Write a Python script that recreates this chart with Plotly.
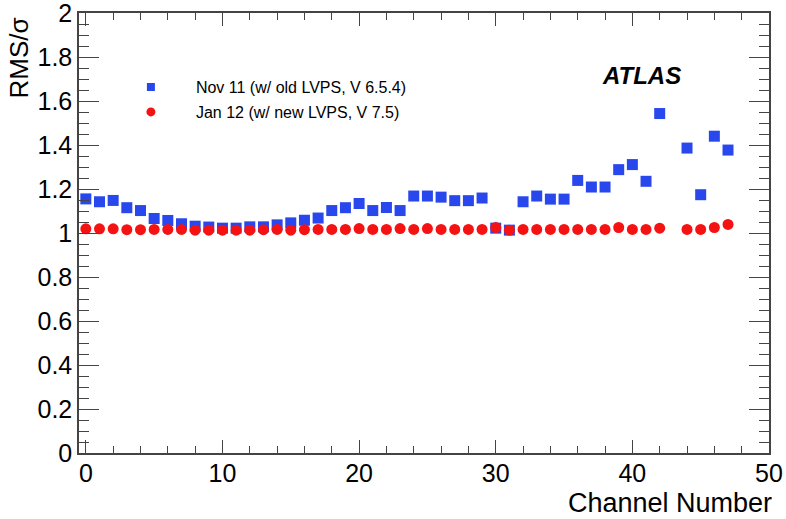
import plotly.graph_objects as go

channels = list(range(48))
nov11 = [1.155, 1.142, 1.148, 1.115, 1.102, 1.066, 1.057, 1.042, 1.031, 1.027,
         1.022, 1.022, 1.028, 1.028, 1.037, 1.046, 1.058, 1.068, 1.102, 1.115,
         1.134, 1.102, 1.116, 1.102, 1.168, 1.168, 1.163, 1.147, 1.147, 1.159,
         1.022, 1.013, 1.142, 1.168, 1.154, 1.154, 1.239, 1.209, 1.209, 1.288,
         1.311, 1.235, 1.543, None, 1.386, 1.174, 1.440, 1.377]
jan12 = [1.019, 1.019, 1.019, 1.015, 1.015, 1.016, 1.016, 1.016, 1.013, 1.013,
         1.013, 1.013, 1.013, 1.015, 1.016, 1.013, 1.015, 1.016, 1.016, 1.016,
         1.020, 1.016, 1.016, 1.020, 1.016, 1.020, 1.016, 1.016, 1.016, 1.016,
         1.025, 1.013, 1.016, 1.016, 1.016, 1.016, 1.016, 1.016, 1.016, 1.025,
         1.016, 1.016, 1.022, None, 1.016, 1.016, 1.025, 1.039]
y_ticks = [0, 0.2, 0.4, 0.6, 0.8, 1, 1.2, 1.4, 1.6, 1.8, 2]
y_ticktext = ["0", "0.2", "0.4", "0.6", "0.8", "1", "1.2", "1.4", "1.6", "1.8", "2"]

name_nov = "Nov 11 (w/ old LVPS, V 6.5.4)"
name_jan = "Jan 12 (w/ new LVPS, V 7.5)"
blue = "rgb(40,72,238)"
red = "rgb(245,18,18)"
font = "Liberation Sans, Arial, sans-serif"

fig = go.Figure()
fig.add_trace(go.Scatter(x=channels, y=nov11, mode="markers", showlegend=False,
                         marker=dict(symbol="square", size=11, color=blue,
                                     line=dict(width=0))))
fig.add_trace(go.Scatter(x=channels, y=jan12, mode="markers", showlegend=False,
                         marker=dict(symbol="circle", size=11, color=red,
                                     line=dict(width=0))))
# legend-only entries with smaller symbols
fig.add_trace(go.Scatter(x=[None], y=[None], mode="markers", name=name_nov,
                         legendgroup="a",
                         marker=dict(symbol="square", size=8, color=blue)))
fig.add_trace(go.Scatter(x=[None], y=[None], mode="markers", name=name_jan,
                         legendgroup="b",
                         marker=dict(symbol="circle", size=9, color=red)))

axcol = "#444444"
fig.update_layout(
    width=786, height=519,
    margin=dict(l=79, r=17, t=13, b=66, autoexpand=False),
    paper_bgcolor="white", plot_bgcolor="white",
    font=dict(family=font, color="black"),
    showlegend=True,
    legend=dict(x=0.039, y=0.87, xanchor="left", yanchor="top",
                bgcolor="rgba(0,0,0,0)", font=dict(size=16, family=font),
                itemwidth=80, tracegroupgap=1),
    xaxis=dict(range=[-0.5, 50], showgrid=False, zeroline=False, automargin=False,
               showline=True, linecolor=axcol, linewidth=1.5, mirror="allticks",
               ticks="inside", ticklen=13, tickwidth=1.2, tickcolor=axcol,
               tick0=0, dtick=10, tickfont=dict(size=25), ticklabeloverflow="allow",
               ticklabelstandoff=-3,
               minor=dict(ticks="inside", ticklen=7, dtick=2, tickwidth=1,
                          tickcolor=axcol, showgrid=False)),
    yaxis=dict(range=[0, 2], showgrid=False, zeroline=False, automargin=False,
               showline=True, linecolor=axcol, linewidth=1.5, mirror="allticks",
               ticks="inside", ticklen=20, tickwidth=1.2, tickcolor=axcol,
               tickvals=y_ticks, ticktext=y_ticktext, tickfont=dict(size=25),
               ticklabeloverflow="allow",
               minor=dict(ticks="inside", ticklen=10, dtick=0.05, tickwidth=1,
                          tickcolor=axcol, showgrid=False)),
)

fig.add_annotation(text="RMS/σ", xref="paper", yref="paper", x=-0.112, y=0.995,
                   xanchor="left", yanchor="top", textangle=-90, showarrow=False,
                   font=dict(size=26, family=font))
fig.add_annotation(text="Channel Number", xref="paper", yref="paper", x=1.007, y=-0.113,
                   xanchor="right", yanchor="middle", showarrow=False,
                   font=dict(size=27, family=font))
fig.add_annotation(text="<b><i>ATLAS</i></b>", xref="paper", yref="paper", x=0.875, y=0.859,
                   xanchor="right", yanchor="middle", showarrow=False,
                   font=dict(size=24, family=font))

fig.write_html("out.html", config={"displayModeBar": False},
               post_script="document.body.style.margin='0';")
